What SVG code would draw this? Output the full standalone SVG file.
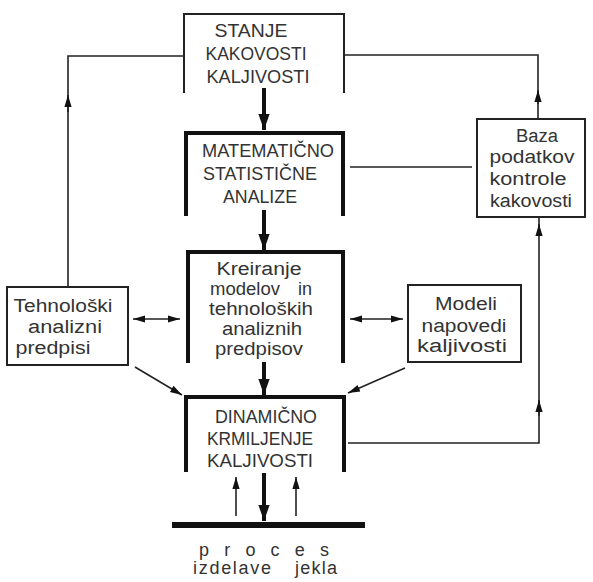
<svg xmlns="http://www.w3.org/2000/svg" width="593" height="582" viewBox="0 0 593 582">
<style>
text{font-family:"Liberation Sans",Arial,sans-serif;fill:#333;text-anchor:middle}
.big{font-size:19px}
.sm{font-size:18px}
.thin{fill:none;stroke:#222;stroke-width:1.6}
.box{fill:none;stroke:#222;stroke-width:2}
.thick{fill:none;stroke:#111;stroke-width:4}
</style>
<defs>
<marker id="ahb" viewBox="0 0 10 10" refX="10" refY="5" markerWidth="4" markerHeight="4" orient="auto"><path d="M0,1.5 L10,5 L0,8.5 Z" fill="#111"/></marker>
<marker id="ahs" viewBox="0 0 10 10" refX="10" refY="5" markerWidth="12" markerHeight="12" markerUnits="userSpaceOnUse" orient="auto-start-reverse"><path d="M0,2 L10,5 L0,8 Z" fill="#111"/></marker>
</defs>
<rect width="593" height="582" fill="#fff"/>
<g id="connectors">
<path class="thin" d="M68,287 V56 H184"/>
<path class="thin" d="M68,112 V95" marker-end="url(#ahs)"/>
<path class="thin" d="M344,55 H538 V119"/>
<path class="thin" d="M538,104 V90" marker-end="url(#ahs)"/>
<path class="thin" d="M350,167 H472"/>
<path class="thin" d="M348,443 H539 V218"/>
<path class="thin" d="M539,416 V400" marker-end="url(#ahs)"/>
<path class="thin" d="M539,236 V224" marker-end="url(#ahs)"/>
<path class="thin" d="M133,319 H180" marker-start="url(#ahs)" marker-end="url(#ahs)"/>
<path class="thin" d="M350,319 H403" marker-start="url(#ahs)" marker-end="url(#ahs)"/>
<path class="thin" d="M135,367 L182,395" marker-end="url(#ahs)"/>
<path class="thin" d="M405,368 L348,393" marker-end="url(#ahs)"/>
<path class="thick" d="M264,88 V130" marker-end="url(#ahb)"/>
<path class="thick" d="M264,210 V250" marker-end="url(#ahb)"/>
<path class="thick" d="M264,362 V395" marker-end="url(#ahb)"/>
<path class="thick" d="M264,473 V521" marker-end="url(#ahb)"/>
<path class="thin" d="M236,516 V477" marker-end="url(#ahs)"/>
<path class="thin" d="M296,516 V477" marker-end="url(#ahs)"/>
</g>
<g id="stanje">
<path class="box" d="M184,93 V14 H344 V93"/>
<text class="big" x="251" y="37" textLength="73" lengthAdjust="spacingAndGlyphs">STANJE</text>
<text class="big" x="256" y="60" textLength="101" lengthAdjust="spacingAndGlyphs">KAKOVOSTI</text>
<text class="big" x="258" y="83" textLength="103" lengthAdjust="spacingAndGlyphs">KALJIVOSTI</text>
</g>
<g id="matematicno">
<path class="thick" d="M186,216 V133 H343 V216"/>
<text class="big" x="268" y="157" textLength="132" lengthAdjust="spacingAndGlyphs">MATEMATIČNO</text>
<text class="big" x="260" y="180" textLength="114" lengthAdjust="spacingAndGlyphs">STATISTIČNE</text>
<text class="big" x="260" y="203" textLength="74" lengthAdjust="spacingAndGlyphs">ANALIZE</text>
</g>
<g id="kreiranje">
<path class="thick" d="M188,363 V252 H343 V363"/>
<text class="sm" x="259" y="275" textLength="85" lengthAdjust="spacingAndGlyphs">Kreiranje</text>
<text class="sm" x="245" y="295" textLength="70" lengthAdjust="spacingAndGlyphs">modelov</text>
<text class="sm" x="305" y="295" textLength="14" lengthAdjust="spacingAndGlyphs">in</text>
<text class="sm" x="261" y="315" textLength="104" lengthAdjust="spacingAndGlyphs">tehnoloških</text>
<text class="sm" x="262" y="335" textLength="80" lengthAdjust="spacingAndGlyphs">analiznih</text>
<text class="sm" x="259" y="355" textLength="88" lengthAdjust="spacingAndGlyphs">predpisov</text>
</g>
<g id="dinamicno">
<path class="thick" d="M186,472 V397 H344 V472"/>
<text class="big" x="266" y="423" textLength="102" lengthAdjust="spacingAndGlyphs">DINAMIČNO</text>
<text class="big" x="260" y="445" textLength="106" lengthAdjust="spacingAndGlyphs">KRMILJENJE</text>
<text class="big" x="260" y="467" textLength="106" lengthAdjust="spacingAndGlyphs">KALJIVOSTI</text>
</g>
<g id="proces">
<line x1="172" y1="525" x2="365" y2="525" stroke="#111" stroke-width="6"/>
<text class="sm" x="264" y="556" textLength="130" lengthAdjust="spacing">p r o c e s</text>
<text class="sm" x="232" y="574" textLength="78" lengthAdjust="spacing">izdelave</text>
<text class="sm" x="316" y="574" textLength="42" lengthAdjust="spacing">jekla</text>
</g>
<g id="tehnoloski">
<rect class="box" x="7" y="287" width="121" height="78"/>
<text class="sm" x="63" y="312" textLength="99" lengthAdjust="spacingAndGlyphs">Tehnološki</text>
<text class="sm" x="65" y="333" textLength="74" lengthAdjust="spacingAndGlyphs">analizni</text>
<text class="sm" x="53" y="354" textLength="75" lengthAdjust="spacingAndGlyphs">predpisi</text>
</g>
<g id="modeli">
<rect class="box" x="408" y="285" width="113" height="77"/>
<text class="sm" x="466" y="310" textLength="62" lengthAdjust="spacingAndGlyphs">Modeli</text>
<text class="sm" x="464" y="332" textLength="85" lengthAdjust="spacingAndGlyphs">napovedi</text>
<text class="sm" x="462" y="352" textLength="90" lengthAdjust="spacingAndGlyphs">kaljivosti</text>
</g>
<g id="baza">
<rect class="box" x="477" y="119" width="108" height="98"/>
<text class="sm" x="537" y="142" textLength="42" lengthAdjust="spacingAndGlyphs">Baza</text>
<text class="sm" x="532" y="163" textLength="85" lengthAdjust="spacingAndGlyphs">podatkov</text>
<text class="sm" x="528" y="185" textLength="77" lengthAdjust="spacingAndGlyphs">kontrole</text>
<text class="sm" x="531" y="207" textLength="82" lengthAdjust="spacingAndGlyphs">kakovosti</text>
</g>
</svg>
